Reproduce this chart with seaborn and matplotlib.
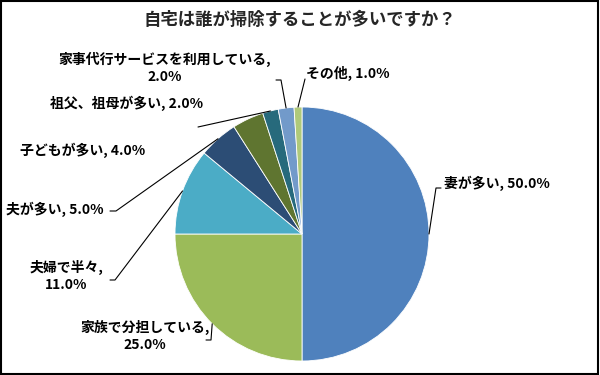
import numpy as np
import matplotlib
matplotlib.use('Agg')
import matplotlib.pyplot as plt
from matplotlib.patches import Rectangle
import seaborn as sns

categories = ['妻が多い', '家族で分担している', '夫婦で半々', '夫が多い', '子どもが多い',
              '祖父、祖母が多い', '家事代行サービスを利用している', 'その他']
shares = [50.0, 25.0, 11.0, 5.0, 4.0, 2.0, 2.0, 1.0]
colors = ['#4F81BD', '#9BBB59', '#4BACC6', '#2C4D75', '#5F7530', '#276A7C', '#729ACA', '#AFC97A']
title = '自宅は誰が掃除することが多いですか？'

sns.set_theme(style='white')
plt.rcParams['font.family'] = ['Noto Sans CJK JP', 'DejaVu Sans']

W, H = 600, 375
fig = plt.figure(figsize=(6, 3.75), dpi=100)
ax = fig.add_axes([0, 0, 1, 1])

def px(x, y):
    # pixel coords (top-left origin) -> data coords
    return x, H - y

cx, cy = px(302, 234)
R = 127
wedges, _ = ax.pie(shares, colors=sns.color_palette(colors), startangle=90, counterclock=False,
                   center=(cx, cy), radius=R, frame=True,
                   wedgeprops=dict(linewidth=0.6, edgecolor='white'))

# label layout: text position, alignment, leader end, tick end (pixel coords)
layout = [
    dict(xy=(444, 183), ha='left', line=(436, 188), tick=(441, 188), sep=', '),
    dict(xy=(145, 336), ha='center', line=(211, 340), tick=(206, 340), sep=',\n'),
    dict(xy=(66, 276), ha='center', line=(115, 280), tick=(110, 280), sep=',\n'),
    dict(xy=(104, 209), ha='right', line=(116, 211), tick=(110, 211), sep=', '),
    dict(xy=(20, 150), ha='left', line=None, tick=None, sep=', '),
    dict(xy=(50, 103), ha='left', line=(198, 127), tick=None, sep=', '),
    dict(xy=(165, 68), ha='center', line=(281, 80), tick=(276, 80), sep=',\n'),
    dict(xy=(306, 73), ha='left', line=(305, 79), tick=None, sep=', '),
]

for w, cat, val, lay in zip(wedges, categories, shares, layout):
    tx, ty = px(*lay['xy'])
    ax.text(tx, ty, f'{cat}{lay["sep"]}{val:.1f}%', ha=lay['ha'], va='center',
            fontsize=10, fontweight='bold', color='black', linespacing=1.2,
            multialignment='center')
    if lay['line'] is not None:
        ang = np.deg2rad((w.theta1 + w.theta2) / 2)
        ex, ey = w.center[0] + w.r * np.cos(ang), w.center[1] + w.r * np.sin(ang)
        xs, ys = [ex, px(*lay['line'])[0]], [ey, px(*lay['line'])[1]]
        if lay['tick'] is not None:
            xs.append(px(*lay['tick'])[0])
            ys.append(px(*lay['tick'])[1])
        ax.plot(xs, ys, color='black', lw=0.8)

ax.text(*px(300, 20), title, ha='center', va='center', fontsize=12.5, fontweight='bold')

ax.set_xlim(0, W)
ax.set_ylim(0, H)
ax.set_aspect('equal')
ax.axis('off')

fig.patches.append(Rectangle((0.002, 0.003), 0.994, 0.994, transform=fig.transFigure,
                             fill=False, edgecolor='black', linewidth=1.5))

fig.savefig('out.png', dpi=100, facecolor='white')
